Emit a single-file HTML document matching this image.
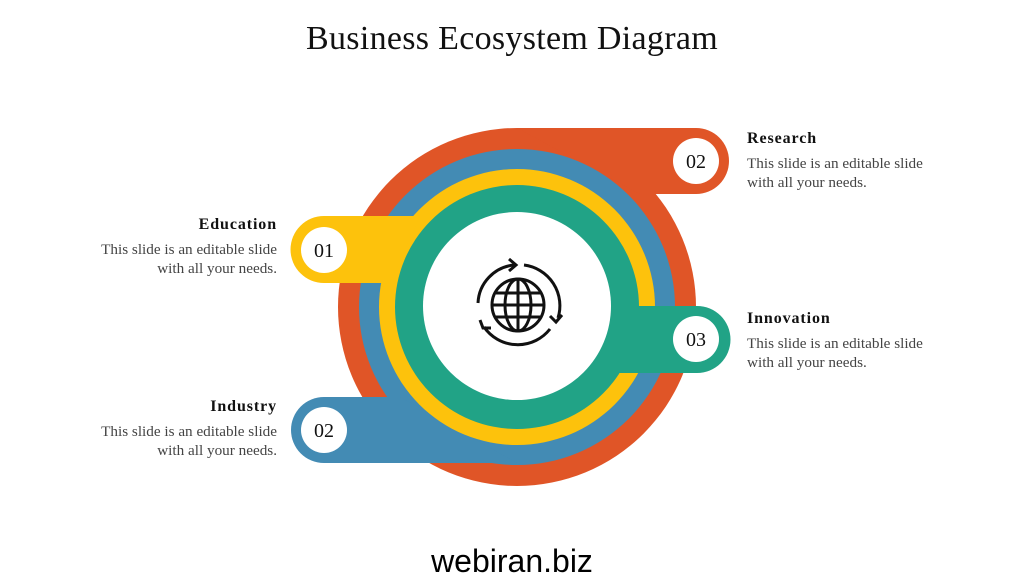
<!DOCTYPE html>
<html><head><style>
body{margin:0;width:1024px;height:576px;background:#fff;position:relative;overflow:hidden;font-family:"Liberation Serif",serif}
.t{position:absolute;font-size:15.2px;color:#444;line-height:19px}
.h{position:absolute;font-size:16px;font-weight:bold;color:#111;letter-spacing:0.9px}
.r{text-align:right}
</style></head><body>
<div style="position:absolute;top:20px;left:0;width:1024px;text-align:center;font-size:34px;color:#111;letter-spacing:0.3px">Business Ecosystem Diagram</div>
<svg width="1024" height="576" style="position:absolute;left:0;top:0">
<g>
<circle cx="517" cy="307" r="179" fill="#e05527"/>
<path d="M517 128 H696 A33 33 0 0 1 696 194 H640 Z" fill="#e05527"/>
<circle cx="517" cy="307" r="158" fill="#438bb4"/>
<path d="M517 463 H324 A33 33 0 0 1 324 397 H400 Z" fill="#438bb4"/>
<circle cx="517" cy="307" r="138" fill="#fdc20c"/>
<path d="M420 216 H324 A33.5 33.5 0 0 0 324 283 H390 Z" fill="#fdc20c"/>
<circle cx="517" cy="307" r="122" fill="#21a386"/>
<path d="M600 306 H697 A33.5 33.5 0 0 1 697 373 H600 Z" fill="#21a386"/>
<circle cx="517" cy="306" r="94" fill="#fff"/>
<circle cx="696" cy="161" r="23" fill="#fff"/>
<circle cx="324" cy="250" r="23" fill="#fff"/>
<circle cx="324" cy="430" r="23" fill="#fff"/>
<circle cx="696" cy="339" r="23" fill="#fff"/>
</g>
<g font-family="Liberation Serif,serif" font-size="20" fill="#111" text-anchor="middle">
<text x="696" y="168">02</text><text x="324" y="257">01</text><text x="324" y="437">02</text><text x="696" y="346">03</text>
</g>
<g fill="none" stroke="#111" stroke-width="3">
<circle cx="518" cy="305" r="26"/>
<ellipse cx="518" cy="305" rx="13" ry="26"/>
<line x1="518" y1="279" x2="518" y2="331"/>
<line x1="492" y1="305" x2="544" y2="305"/>
<path d="M496 293 H540 M496 317 H540"/>
<path d="M478 303 A40 40 0 0 1 514 265"/>
<path d="M524 265 A41 41 0 0 1 558 318"/>
<path d="M550 329 A41 41 0 0 1 484 327"/>
<path d="M509 259 L516 265 L509 271 M550 316 L556 322 L562 315 M480 320 L483 328 L491 328"/>
</g>
</svg>
<div class="h r" style="left:80px;width:197px;top:216px">Education</div>
<div class="t r" style="left:40px;width:237px;top:240px">This slide is an editable slide<br>with all your needs.</div>
<div class="h r" style="left:80px;width:197px;top:398px">Industry</div>
<div class="t r" style="left:40px;width:237px;top:422px">This slide is an editable slide<br>with all your needs.</div>
<div class="h" style="left:747px;top:130px">Research</div>
<div class="t" style="left:747px;top:154px">This slide is an editable slide<br>with all your needs.</div>
<div class="h" style="left:747px;top:310px">Innovation</div>
<div class="t" style="left:747px;top:334px">This slide is an editable slide<br>with all your needs.</div>
<div style="position:absolute;top:543px;left:0;width:1024px;text-align:center;font-family:'Liberation Sans',sans-serif;font-size:32px;color:#000">webiran.biz</div>
</body></html>
